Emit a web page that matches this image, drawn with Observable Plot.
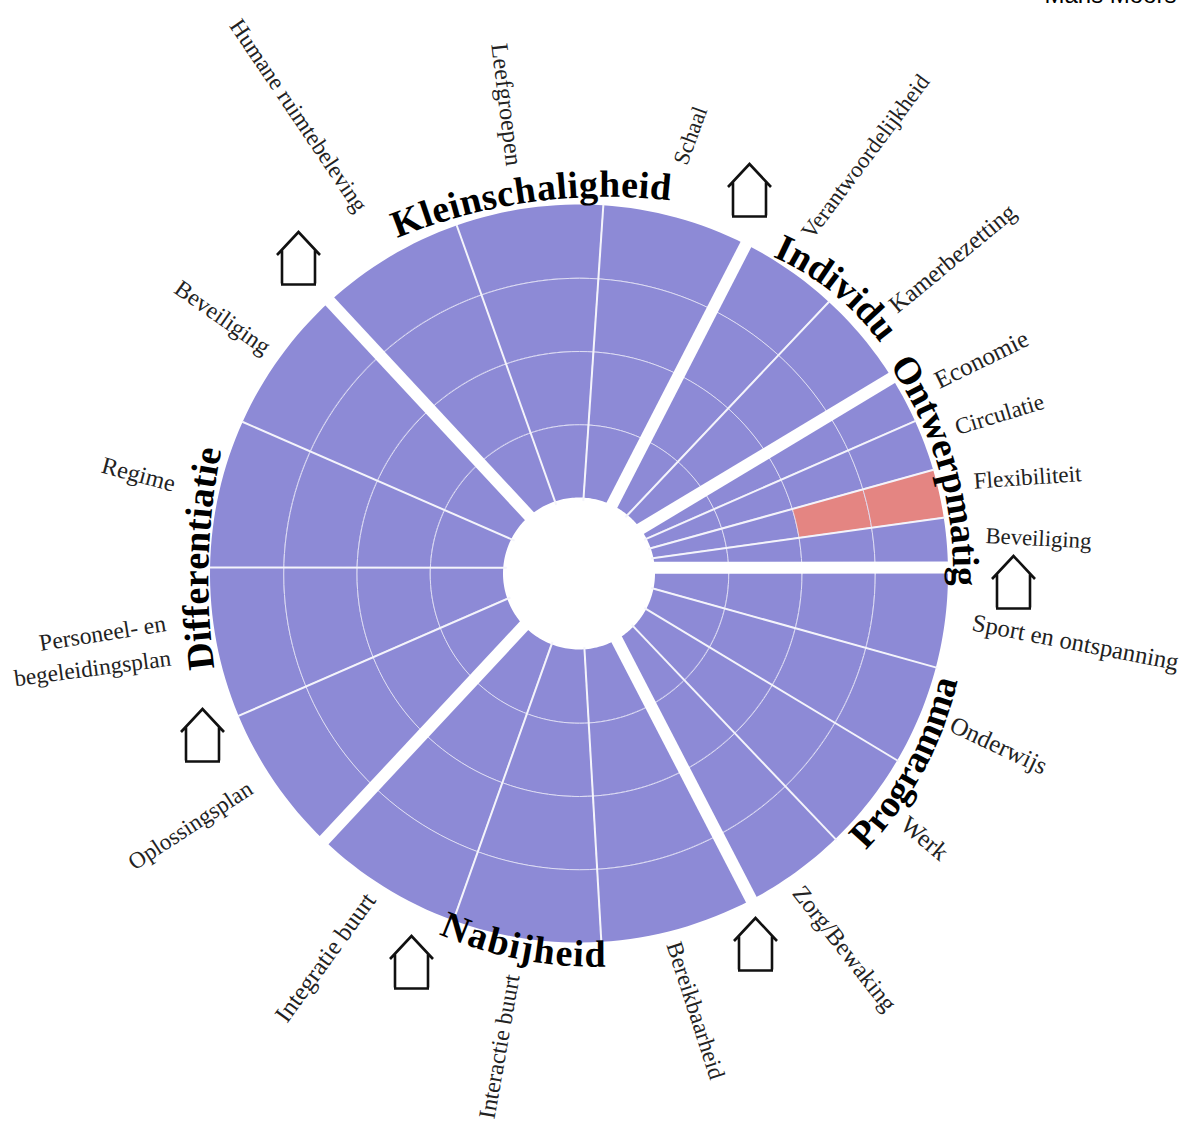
<!DOCTYPE html>
<html lang="nl">
<head>
<meta charset="utf-8">
<title>Radar</title>
<script src="https://cdn.jsdelivr.net/npm/d3@7"></script>
<script src="https://cdn.jsdelivr.net/npm/@observablehq/plot@0.6"></script>
<style>
  html, body { margin: 0; padding: 0; background: #fff; overflow: hidden; }
  svg { display: block; }
</style>
</head>
<body>
<div id="chart"></div>
<script>
// ---- Values ----
const criteria = ["Beveiliging", "Flexibiliteit", "Circulatie", "Economie",
  "Kamerbezetting", "Verantwoordelijkheid",
  "Schaal", "Leefgroepen", "Humane ruimtebeleving",
  "Beveiliging", "Regime", "Personeel- en begeleidingsplan", "Oplossingsplan",
  "Integratie buurt", "Interactie buurt", "Bereikbaarheid",
  "Zorg/Bewaking", "Werk", "Onderwijs", "Sport en ontspanning"];
// purple rings per criterion; rings beyond it are pink
const scores = [4, 2, 4, 4, 4, 4, 4, 4, 4, 4, 4, 4, 4, 4, 4, 4, 4, 4, 4, 4];
const ringCount = 4;

// spoke angle (degrees, anticlockwise from east) at the rim and at the hub
const spokeOuter = [1, 8.8, 16.4, 24.5, 32.1, 47.5, 63.2, 86.3, 109.4, 132.5,
  155.7, 179, 202.6, 226.2, 250, 273.4, 297.8, 314, 329.6, 345.3];
const spokeInner = [4.9, 12.2, 20, 27.9, 36.7, 51, 64.9, 87, 108.6, 130.8,
  152.8, 175, 198.8, 222.9, 248.3, 273.8, 299.7, 315.8, 332.4, 349];
const groupSpokes = [0, 4, 6, 9, 13, 16];

// ---- Text layout ----
const labelText = ["Beveiliging", "Flexibiliteit", "Circulatie", "Economie", "Kamerbezetting",
  "Verantwoordelijkheid", "Schaal", "Leefgroepen", "Humane ruimtebeleving", "Beveiliging", "Regime",
  "Personeel- en", "begeleidingsplan", "Oplossingsplan", "Integratie buurt", "Interactie buurt",
  "Bereikbaarheid", "Zorg/Bewaking", "Werk", "Onderwijs", "Sport en ontspanning"];
const labelX = [1038, 1027, 999, 981, 952, 865, 690, 506, 298, 222, 138, 102, 92, 190, 325, 499, 695, 844, 924, 998, 1075];
const labelY = [538, 477, 414, 359, 258, 156, 135, 104, 115, 317, 474, 633, 668, 825, 957, 1046, 1010, 948, 838, 745, 642];
const labelAngle = [3, -4, -17, -26, -39.5, -53.3, -70, 83, 56, 35, 15, -9, -7.5, -33, -54, -80, 72, 52, 40, 25, 11];
const labelLength = [106, 108, 92, 102, 156, 198, 60, 123, 227, 111, 75, 128, 158, 143, 153, 146, 143, 152, 54, 105, 210];

const groupNames = ["Ontwerpmatig", "Individu", "Kleinschaligheid", "Differentiatie", "Nabijheid", "Programma"];
// baseline of each curved title: start, middle and end point
const titlePaths = [
  [[889, 365], [939, 472], [952, 585]],
  [[772, 256], [830, 291], [880, 343]],
  [[396, 238], [535, 201], [670, 200]],
  [[214, 668], [208, 560], [221, 449]],
  [[437, 933], [525, 960], [606, 966]],
  [[865, 850], [932, 753], [957, 680]]
];

const houseX = [1013, 749, 298, 202, 411, 755];
const houseY = [582, 190, 258, 735, 962, 944];

// ---- Geometry ----
const W = 1190, H = 1124, CX = 579, CY = 573.5;
const hubR = 76, rimR = 369;
const ringR = d3.scaleLinear().domain([0, ringCount]).range([hubR, rimR]);
const rad = d => d * Math.PI / 180;
const polar = (deg, r) => [CX + r * Math.cos(rad(deg)), CY - r * Math.sin(rad(deg))];
const edgeAngle = (i, r) => {
  const wrap = i === spokeOuter.length;
  const o = wrap ? spokeOuter[0] + 360 : spokeOuter[i];
  const n = wrap ? spokeInner[0] + 360 : spokeInner[i];
  const t = (1 / r - 1 / rimR) / (1 / hubR - 1 / rimR);
  return o + (n - o) * t;
};

// cells
const cells = [];
criteria.forEach((name, i) => {
  for (let ring = 0; ring < ringCount; ring++) {
    const r1 = ringR(ring), r2 = ringR(ring + 1);
    for (let k = 0; k <= 16; k++) {
      const u = k / 16;
      const a1 = edgeAngle(i, r1) + (edgeAngle(i + 1, r1) - edgeAngle(i, r1)) * u;
      const a2 = edgeAngle(i, r2) + (edgeAngle(i + 1, r2) - edgeAngle(i, r2)) * u;
      const p1 = polar(a1, r1), p2 = polar(a2, r2);
      cells.push({id: i + "-" + ring, x1: p1[0], y1: p1[1], x2: p2[0], y2: p2[1],
        status: ring < scores[i] ? "voldoet" : "aandacht"});
    }
  }
});

// ring lines
const rings = [];
d3.range(1, ringCount).forEach(level => {
  d3.range(0, 361, 2).forEach(a => {
    const p = polar(a, ringR(level));
    rings.push({level, x: p[0], y: p[1]});
  });
});

// spokes
const spokes = spokeOuter.map((_, i) => {
  const a = polar(spokeInner[i], hubR - 3);
  const isGroup = groupSpokes.includes(i);
  const b = polar(spokeOuter[i], rimR + (isGroup ? 7 : 1));
  return {x1: a[0], y1: a[1], x2: b[0], y2: b[1], isGroup};
});

// curved titles, one real text element per character
const ctx = document.createElement("canvas").getContext("2d");
const titleSize = 38;
ctx.font = `bold ${titleSize}px "Liberation Serif"`;
const titleChars = [];
groupNames.forEach((name, g) => {
  const [[ax, ay], [mx, my], [bx, by]] = titlePaths[g];
  const d = 2 * (ax * (my - by) + mx * (by - ay) + bx * (ay - my));
  const sa = ax * ax + ay * ay, sm = mx * mx + my * my, sb = bx * bx + by * by;
  const ox = (sa * (my - by) + sm * (by - ay) + sb * (ay - my)) / d;
  const oy = (sa * (bx - mx) + sm * (ax - bx) + sb * (mx - ax)) / d;
  const R = Math.hypot(ax - ox, ay - oy);
  const cross = (mx - ax) * (by - my) - (my - ay) * (bx - mx);
  const a0 = Math.atan2(ay - oy, ax - ox), a1 = Math.atan2(by - oy, bx - ox);
  const tau = 2 * Math.PI;
  const sweep = cross > 0 ? ((a1 - a0) % tau + tau) % tau : -(((a0 - a1) % tau + tau) % tau);
  const total = ctx.measureText(name).width;
  [...name].forEach((ch, i) => {
    const s = ctx.measureText(name.slice(0, i)).width + ctx.measureText(ch).width / 2;
    const a = a0 + sweep * (s / total);
    const tx = cross > 0 ? -Math.sin(a) : Math.sin(a);
    const ty = cross > 0 ? Math.cos(a) : -Math.cos(a);
    titleChars.push({ch, x: ox + R * Math.cos(a), y: oy + R * Math.sin(a),
      rot: Math.atan2(ty, tx) * 180 / Math.PI});
  });
});

// labels: font size chosen so that each text spans its length in the reference
ctx.font = `100px "Liberation Serif"`;
const labels = labelText.map((text, i) => ({text, x: labelX[i], y: labelY[i], rot: labelAngle[i],
  size: Math.max(19, Math.min(25, labelLength[i] / ctx.measureText(text).width * 100))}));
const houses = houseX.map((x, i) => ({x, y: houseY[i]}));

// house outline as a dot symbol
const houseSymbol = {
  draw(c, size) {
    const s = Math.sqrt(size / Math.PI) / 26.5;
    c.moveTo(-21.5 * s, -3.5 * s); c.lineTo(0, -26.5 * s); c.lineTo(21.5 * s, -3.5 * s);
    c.moveTo(-16.5 * s, -8 * s); c.lineTo(-16.5 * s, 25 * s);
    c.moveTo(16.5 * s, -8 * s); c.lineTo(16.5 * s, 25 * s);
    c.moveTo(-17.5 * s, 26 * s); c.lineTo(17.5 * s, 26 * s);
  }
};

const serif = "'Liberation Serif', serif";

const chart = Plot.plot({
  width: W, height: H, margin: 0,
  x: {domain: [0, W], range: [0, W], axis: null},
  y: {domain: [0, H], range: [0, H], axis: null},
  color: {domain: ["voldoet", "aandacht"], range: ["#8d8ad6", "#e48582"]},
  marks: [
    Plot.area(cells, {x1: "x1", y1: "y1", x2: "x2", y2: "y2", z: "id", fill: "status"}),
    Plot.line(rings, {x: "x", y: "y", z: "level", stroke: "#dfdef4", strokeWidth: 1}),
    Plot.link(spokes.filter(d => !d.isGroup), {x1: "x1", y1: "y1", x2: "x2", y2: "y2",
      stroke: "#f4f4fb", strokeWidth: 2}),
    Plot.link(spokes.filter(d => d.isGroup), {x1: "x1", y1: "y1", x2: "x2", y2: "y2",
      stroke: "white", strokeWidth: 12}),
    Plot.text(labels, {x: "x", y: "y", text: "text", rotate: "rot", fontFamily: serif,
      fontSize: "size", fill: "#222", textAnchor: "middle", lineAnchor: "middle"}),
    Plot.text(titleChars, {x: "x", y: "y", text: "ch", rotate: "rot", fontFamily: serif,
      fontSize: titleSize, fontWeight: "bold", fill: "#000", textAnchor: "middle", lineAnchor: "bottom"}),
    Plot.dot(houses, {x: "x", y: "y", r: 26.5, symbol: houseSymbol, fill: "none",
      stroke: "#111", strokeWidth: 2.6}),
    Plot.text(["Mans Moors"], {x: [1110], y: [2], fontFamily: "'Liberation Sans', sans-serif",
      fontSize: 24, fill: "#000", textAnchor: "middle", lineAnchor: "bottom"})
  ]
});
document.getElementById("chart").append(chart);
</script>
</body>
</html>
